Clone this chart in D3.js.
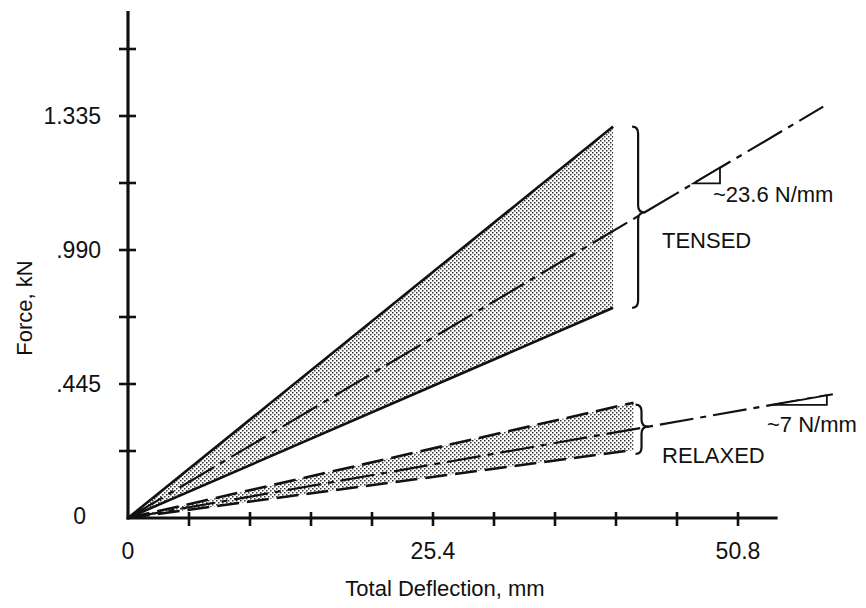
<!DOCTYPE html>
<html>
<head>
<meta charset="utf-8">
<script src="https://cdn.jsdelivr.net/npm/d3@7"></script>
<style>
  html, body { margin: 0; padding: 0; background: #fff; }
  svg text { font-family: "Liberation Sans", Arial, Helvetica, sans-serif; fill: #111; }
</style>
</head>
<body>
<svg id="chart" width="866" height="608"></svg>
<script>
// Deflection (mm) and force (kN) end points of each load line
const tensedDeflection   = [0, 40.4];
const tensedUpperForce   = [0, 1.300];
const tensedLowerForce   = [0, 0.698];
const tensedMidDeflection = [0, 57.9];
const tensedMidForce     = [0, 1.366];   // ~23.6 N/mm

const relaxedDeflection  = [0, 42.1];
const relaxedUpperForce  = [0, 0.383];
const relaxedLowerForce  = [0, 0.226];
const relaxedMidDeflection = [0, 58.7];
const relaxedMidForce    = [0, 0.411];   // ~7 N/mm

// Slope triangles along the mid lines (deflection span, mm)
const tensedTriangle  = [47.1, 49.3];
const relaxedTriangle = [53.7, 58.2];

// Axis ticks and labels
const xTickValues = [5.08, 10.16, 15.24, 20.32, 25.4, 30.48, 35.56, 40.64, 45.72, 50.8];
const xLabelValues = [0, 25.4, 50.8];
const xLabelText   = ["0", "25.4", "50.8"];
const yTickValues = [0.2225, 0.445, 0.6675, 0.89, 1.1125, 1.335, 1.5575];
const yLabelValues = [0, 0.445, 0.89, 1.335];
const yLabelText   = ["0", ".445", ".990", "1.335"];
const xAxisMax = 54.1, yAxisMax = 1.684;

const svg = d3.select("#chart");
const x = d3.scaleLinear().domain([0, 50.8]).range([128, 738]);
const y = d3.scaleLinear().domain([0, 1.335]).range([518, 116]);

// Stippled fill for the scatter bands
const defs = svg.append("defs");
const pat = defs.append("pattern").attr("id", "stipple")
  .attr("patternUnits", "userSpaceOnUse").attr("width", 4).attr("height", 4);
pat.append("rect").attr("x", 0).attr("y", 0).attr("width", 1.5).attr("height", 1.5).attr("fill", "#333");
pat.append("rect").attr("x", 2).attr("y", 2).attr("width", 1.5).attr("height", 1.5).attr("fill", "#333");

function band(dx, up, lo) {
  return [[dx[0], up[0]], [dx[1], up[1]], [dx[1], lo[1]], [dx[0], lo[0]]];
}
const area = d3.line().x(d => x(d[0])).y(d => y(d[1]));

svg.append("path").attr("d", area(band(tensedDeflection, tensedUpperForce, tensedLowerForce)) + "Z")
  .attr("fill", "url(#stipple)");
svg.append("path").attr("d", area(band(relaxedDeflection, relaxedUpperForce, relaxedLowerForce)) + "Z")
  .attr("fill", "url(#stipple)");

function seg(dx, f) { return dx.map((v, i) => [v, f[i]]); }
function drawLine(pts, width, dash) {
  svg.append("path").attr("d", area(pts)).attr("fill", "none")
    .attr("stroke", "#111").attr("stroke-width", width)
    .attr("stroke-dasharray", dash || null);
}
// Tensed: solid bounds, dash-dot mean
drawLine(seg(tensedDeflection, tensedUpperForce), 2.6);
drawLine(seg(tensedDeflection, tensedLowerForce), 2.6);
drawLine(seg(tensedMidDeflection, tensedMidForce), 2.2, "40,7,6,7");
// Relaxed: dashed bounds, dash-dot mean
drawLine(seg(relaxedDeflection, relaxedUpperForce), 2.6, "22,8");
drawLine(seg(relaxedDeflection, relaxedLowerForce), 2.6, "22,8");
drawLine(seg(relaxedMidDeflection, relaxedMidForce), 2.2, "34,7,6,7");

// Slope triangles
function triangle(span, dx, f) {
  const k = f[1] / dx[1];
  const p1 = [x(span[0]), y(k * span[0])];
  const p2 = [x(span[1]), y(k * span[1])];
  svg.append("path")
    .attr("d", `M${p1[0]},${p1[1]}L${p2[0]},${p2[1]}L${p2[0]},${p1[1]}Z`)
    .attr("fill", "#fff").attr("stroke", "#111").attr("stroke-width", 1.8)
    .attr("stroke-linejoin", "miter");
}
triangle(tensedTriangle, tensedMidDeflection, tensedMidForce);
triangle(relaxedTriangle, relaxedMidDeflection, relaxedMidForce);

// Curly braces closing each band
function brace(x0, yTop, yBot, yMid) {
  const xb = x0 + 6, xp = x0 + 13, r = 7;
  const p = `M${x0},${yTop} Q${xb},${yTop} ${xb},${yTop + r} L${xb},${yMid - r} Q${xb},${yMid} ${xp},${yMid}` +
            ` Q${xb},${yMid} ${xb},${yMid + r} L${xb},${yBot - r} Q${xb},${yBot} ${x0},${yBot}`;
  svg.append("path").attr("d", p).attr("fill", "none").attr("stroke", "#111").attr("stroke-width", 2.2);
}
{
  const xe = tensedDeflection[1];
  const kMid = tensedMidForce[1] / tensedMidDeflection[1];
  brace(x(xe) + 19, y(tensedUpperForce[1]), y(tensedLowerForce[1]), y(kMid * (xe + 2.6)));
}
{
  const xe = relaxedDeflection[1];
  const kMid = relaxedMidForce[1] / relaxedMidDeflection[1];
  brace(x(xe) + 2, y(relaxedUpperForce[1]) + 2, y(relaxedLowerForce[1]) + 4, y(kMid * (xe + 1.2)));
}

// Axes
const axisG = svg.append("g").attr("stroke", "#111").attr("stroke-linecap", "butt");
axisG.append("line").attr("x1", x(0)).attr("x2", x(0)).attr("y1", y(0) + 1.5).attr("y2", y(yAxisMax)).attr("stroke-width", 3.2);
axisG.append("line").attr("x1", x(0) - 1.5).attr("x2", x(xAxisMax)).attr("y1", y(0)).attr("y2", y(0)).attr("stroke-width", 3.2);
axisG.selectAll(".yt").data(yTickValues).join("line")
  .attr("x1", x(0) - 9).attr("x2", x(0) + 8).attr("y1", d => y(d)).attr("y2", d => y(d)).attr("stroke-width", 2.6);
axisG.selectAll(".xt").data(xTickValues).join("line")
  .attr("x1", d => x(d)).attr("x2", d => x(d)).attr("y1", y(0) - 6).attr("y2", y(0) + 8).attr("stroke-width", 2.6);

svg.selectAll(".xl").data(xLabelValues).join("text")
  .attr("x", d => x(d)).attr("y", y(0) + 41).attr("text-anchor", "middle")
  .attr("font-size", 23).text((d, i) => xLabelText[i]);
svg.selectAll(".yl").data(yLabelValues).join("text")
  .attr("x", d => d === 0 ? 86 : 101).attr("y", d => d === 0 ? y(d) + 6 : y(d) + 8)
  .attr("text-anchor", "end").attr("font-size", 23).text((d, i) => yLabelText[i]);

svg.append("text").attr("x", 445).attr("y", 596).attr("text-anchor", "middle")
  .attr("font-size", 22).text("Total Deflection, mm");
svg.append("text").attr("transform", "translate(32,308) rotate(-90)").attr("text-anchor", "middle")
  .attr("font-size", 22).text("Force, kN");

// Annotations
svg.append("text").attr("x", 713).attr("y", 202).attr("font-size", 22).text("~23.6 N/mm");
svg.append("text").attr("x", 662).attr("y", 248).attr("font-size", 22).text("TENSED");
svg.append("text").attr("x", 767).attr("y", 432).attr("font-size", 22).text("~7 N/mm");
svg.append("text").attr("x", 662).attr("y", 463).attr("font-size", 22).text("RELAXED");
</script>
</body>
</html>
